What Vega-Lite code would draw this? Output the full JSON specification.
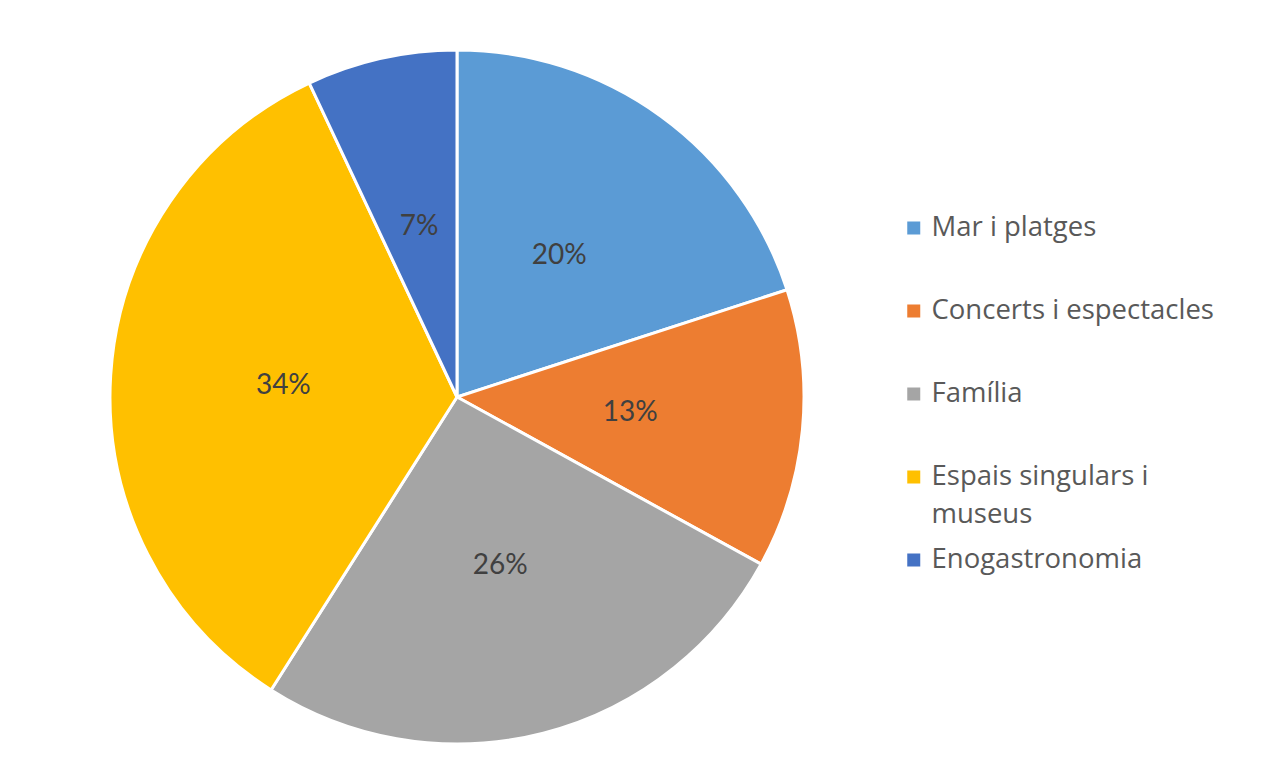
{
  "$schema": "https://vega.github.io/schema/vega-lite/v6.json",
  "width": 692,
  "height": 692,
  "autosize": {"type": "none"},
  "padding": {"left": 111, "top": 51, "right": 481, "bottom": 35},
  "background": "white",
  "config": {
    "view": {"stroke": null},
    "style": {"guide-label": {"lineHeight": 38}}
  },
  "data": {
    "values": [
      {"category": "Mar i platges", "share": 0.20, "order": 1},
      {"category": "Concerts i espectacles", "share": 0.13, "order": 2},
      {"category": "Família", "share": 0.26, "order": 3},
      {"category": "Espais singulars i museus", "share": 0.34, "order": 4},
      {"category": "Enogastronomia", "share": 0.07, "order": 5}
    ]
  },
  "encoding": {
    "theta": {"field": "share", "type": "quantitative", "stack": true},
    "order": {"field": "order", "type": "quantitative"}
  },
  "layer": [
    {
      "mark": {"type": "arc", "outerRadius": 347, "stroke": "white", "strokeWidth": 3},
      "encoding": {
        "color": {
          "field": "category",
          "type": "nominal",
          "scale": {
            "domain": ["Mar i platges", "Concerts i espectacles", "Família", "Espais singulars i museus", "Enogastronomia"],
            "range": ["#5B9BD5", "#ED7D31", "#A5A5A5", "#FFC000", "#4472C4"]
          },
          "legend": {
            "title": null,
            "orient": "none",
            "legendX": 789,
            "legendY": 145.5,
            "padding": 0,
            "symbolType": "square",
            "symbolSize": 169,
            "symbolStrokeWidth": 0,
            "labelFont": "Open Sans",
            "labelFontSize": 27.5,
            "labelColor": "#595959",
            "labelLimit": 400,
            "labelOffset": 4,
            "clipHeight": 63,
            "rowPadding": 0,
            "labelExpr": "datum.value === 'Espais singulars i museus' ? ['Espais singulars i', 'museus'] : [datum.label, '']"
          }
        }
      }
    },
    {
      "mark": {"type": "text", "radius": 174, "font": "Lato", "fontSize": 28, "color": "#404040"},
      "encoding": {
        "text": {"field": "share", "type": "quantitative", "format": ".0%"}
      }
    }
  ]
}
